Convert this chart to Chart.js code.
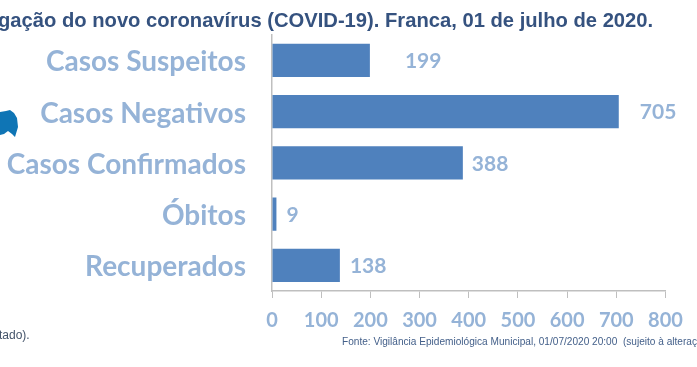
<!DOCTYPE html>
<html>
<head>
<meta charset="utf-8">
<script src="https://cdn.jsdelivr.net/npm/chart.js@4"></script>
<style>
  html, body { margin: 0; padding: 0; background: #fff; overflow: hidden; }
  #wrap { position: relative; width: 697px; height: 367px; overflow: hidden; }
  #wrap canvas { position: absolute; left: 0; top: 0; }
  .txt { position: absolute; white-space: nowrap; font-family: "Liberation Sans", sans-serif; }
  #title { left: -2px; top: 9px; font-size: 20.2px; font-weight: bold; color: #35527f; }
  #note { left: -1px; top: 328px; font-size: 12px; color: #44546a; }
  #source { left: 342px; top: 336px; font-size: 10.1px; color: #44608a; }
  #blob { position: absolute; left: 0; top: 108px; }
</style>
</head>
<body>
<div id="wrap">
  <canvas id="chart" width="697" height="367"></canvas>
  <div class="txt" id="title">gação do novo coronavírus (COVID-19). Franca, 01 de julho de 2020.</div>
  <div class="txt" id="note">tado).</div>
  <div class="txt" id="source">Fonte: Vigilância Epidemiológica Municipal, 01/07/2020 20:00&nbsp; (sujeito à alteração)</div>
  <svg id="blob" width="20" height="30"><path d="M0 4 L6 3 L10 2 L14 5 L17 10 L18 19 L15 29 L12 26 L8 23 L4 26 L0 27 Z" fill="#0f75b5"/></svg>
</div>
<script>
'use strict';

const categories = ['Casos Suspeitos', 'Casos Negativos', 'Casos Confirmados', 'Óbitos', 'Recuperados'];
const values = [199, 705, 388, 9, 138];
const xTicks = [0, 100, 200, 300, 400, 500, 600, 700, 800];

// distance from bar end to the start of its number, the source has them uneven
const labelGaps = [35, 21, 9, 10, 10];

const labelColor = '#95b3d7';
const fontName = 'Lato, sans-serif';

const valueLabels = {
  id: 'valueLabels',
  afterDatasetsDraw(chart) {
    const ctx = chart.ctx;
    const bars = chart.getDatasetMeta(0).data;
    ctx.save();
    ctx.font = 'bold 21px ' + fontName;
    ctx.fillStyle = labelColor;
    ctx.textAlign = 'left';
    ctx.textBaseline = 'middle';
    bars.forEach(function (bar, i) {
      ctx.fillText(String(values[i]), bar.x + labelGaps[i], bar.y + 1);
    });
    ctx.restore();
  }
};

new Chart(document.getElementById('chart').getContext('2d'), {
  type: 'bar',
  data: {
    labels: categories,
    datasets: [{
      data: values,
      backgroundColor: '#4f81bd',
      categoryPercentage: 0.65,
      barPercentage: 1
    }]
  },
  options: {
    indexAxis: 'y',
    responsive: false,
    animation: false,
    layout: { padding: { top: 28, right: 31.5, left: 0, bottom: 0 } },
    plugins: { legend: { display: false }, tooltip: { enabled: false } },
    scales: {
      x: {
        min: 0,
        max: 800,
        afterFit(scale) { scale.height = 76; },
        afterBuildTicks(scale) { scale.ticks = xTicks.map(function (v) { return { value: v }; }); },
        grid: { drawOnChartArea: false, drawTicks: true, tickLength: 7, color: '#bfbfbf' },
        border: { color: '#bfbfbf', width: 1.5 },
        ticks: {
          color: labelColor,
          padding: 11,
          maxRotation: 0,
          autoSkip: false,
          font: { family: fontName, size: 20, weight: 'bold' }
        }
      },
      y: {
        afterFit(scale) { scale.width = 272; },
        grid: { display: false },
        border: { color: '#bfbfbf', width: 1.5 },
        ticks: {
          color: labelColor,
          padding: 18,
          labelOffset: 2,
          font: { family: fontName, size: 28, weight: 'bold' }
        }
      }
    }
  },
  plugins: [valueLabels]
});
</script>
</body>
</html>
